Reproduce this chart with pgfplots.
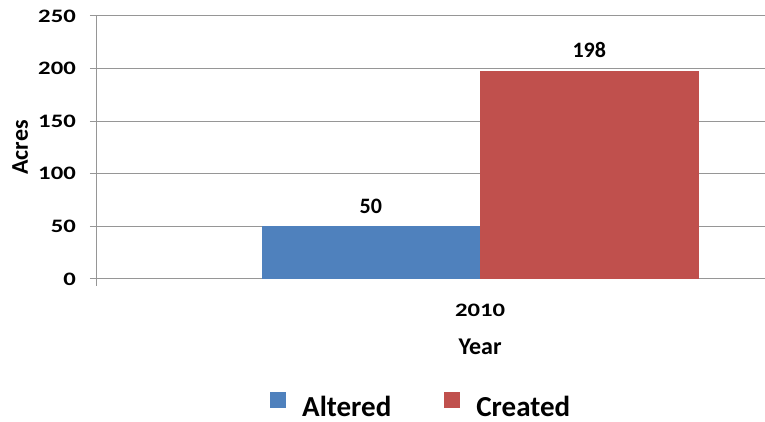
\documentclass[border=0pt]{standalone}
\usepackage{fontspec}
\setmainfont{Carlito}
\newfontfamily\numfont{Carlito}[FakeStretch=1.3]
\usepackage{pgfplots}
\pgfplotsset{compat=1.18}
\definecolor{altered}{HTML}{4F81BD}
\definecolor{created}{HTML}{C0504D}
\definecolor{gridgray}{HTML}{969696}
\newcommand{\fs}[1]{\fontsize{#1pt}{#1pt}\selectfont\bfseries}

\begin{document}
\begin{tikzpicture}
\useasboundingbox (0,0) rectangle (765pt,422pt);
\begin{axis}[
    at={(97pt,143pt)}, anchor=south west,
    scale only axis, width=668pt, height=263pt,
    xmin=-1.753, xmax=1.304, ymin=0, ymax=250,
    /pgf/number format/assume math mode=true,
    axis x line*=bottom, axis y line*=left,
    axis line style={gridgray, line width=1pt},
    ytick={0,50,...,250},
    ymajorgrids, grid style={gridgray, line width=1pt},
    tick align=outside, major tick length=7pt,
    tick style={gridgray, line width=1pt},
    xtick={0}, xticklabels={2010},
    x tick style={draw=none},
    extra x ticks={-1.753}, extra x tick labels={},
    extra x tick style={x tick style={draw=gridgray}},
    xticklabel style={font=\numfont\fs{19}, anchor=base, inner sep=0pt, yshift=-31pt},
    yticklabel style={font=\numfont\fs{19}, anchor=east, inner sep=0pt, xshift=-14pt},
    xlabel={Year},
    xlabel style={font=\fs{24}, at={(axis description cs:0.5734,-0.2852)}, anchor=base, inner sep=0pt},
    ylabel={Acres},
    ylabel style={font=\fs{24}, at={(axis description cs:-0.1033,0.5)}, anchor=base, inner sep=0pt},
    bar width=1, bar shift=0pt,
    nodes near coords,
    nodes near coords style={font=\fs{22}, anchor=base, inner sep=0pt, yshift=13pt, text=black},
    legend columns=2,
    legend image code/.code={\fill[#1] (0pt,-2pt) rectangle (16pt,14pt);},
    legend style={draw=none, fill=none, inner sep=0pt, font=\fs{29},
        at={(axis description cs:0.259,-0.477)}, anchor=west,
        nodes={inner sep=0pt, text depth=0pt},
        /tikz/every odd column/.append style={column sep=16pt},
        /tikz/every even column/.append style={column sep=53pt}},
]
\addplot[ybar, fill=altered, draw=none] coordinates {(-0.5,50)};
\addplot[ybar, fill=created, draw=none] coordinates {(0.5,198)};
\legend{Altered, Created}
\end{axis}
\end{tikzpicture}
\end{document}
